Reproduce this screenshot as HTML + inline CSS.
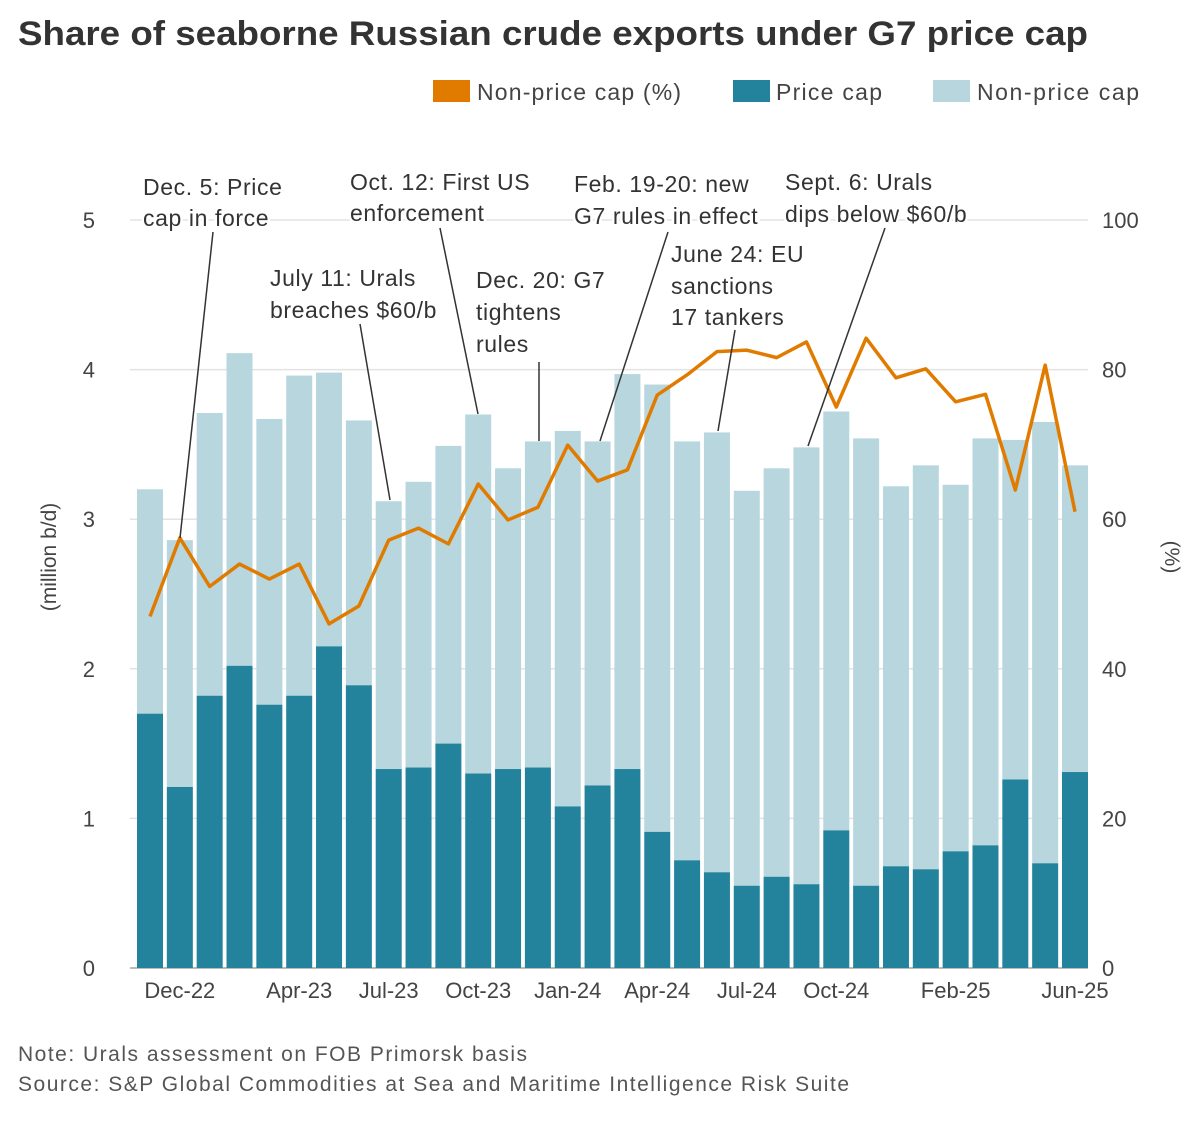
<!DOCTYPE html>
<html><head><meta charset="utf-8"><style>
body{margin:0;background:#fff;font-family:"Liberation Sans",sans-serif;}
svg text{font-family:"Liberation Sans",sans-serif;}
</style></head><body>
<svg id="chart" width="1200" height="1128" xmlns="http://www.w3.org/2000/svg">
<text x="18" y="45" font-size="34" font-weight="bold" fill="#333" textLength="1070" lengthAdjust="spacingAndGlyphs">Share of seaborne Russian crude exports under G7 price cap</text>
<g font-size="23" fill="#444">
<rect x="433" y="80" width="37" height="22" fill="#e07b00"/>
<text x="477" y="100" textLength="204">Non-price cap (%)</text>
<rect x="733" y="80" width="37" height="22" fill="#23839c"/>
<text x="776" y="100" textLength="106">Price cap</text>
<rect x="933" y="80" width="37" height="22" fill="#b7d6de"/>
<text x="977" y="100" textLength="162">Non-price cap</text>
</g>
<g id="grid"></g><g id="bars"></g><g id="line"></g><g id="axes"></g>
<g id="annot" font-size="23" fill="#333" letter-spacing="0.6"></g>
<text transform="translate(56,557) rotate(-90)" text-anchor="middle" font-size="21" fill="#444">(million b/d)</text>
<text transform="translate(1165,557) rotate(90)" text-anchor="middle" font-size="21" fill="#444">(%)</text>
<text x="18" y="1061" font-size="21" fill="#555" textLength="509">Note: Urals assessment on FOB Primorsk basis</text>
<text x="18" y="1091" font-size="21" fill="#555" textLength="831">Source: S&amp;P Global Commodities at Sea and Maritime Intelligence Risk Suite</text>
</svg>
<script>
const totals=[3.20,2.86,3.71,4.11,3.67,3.96,3.98,3.66,3.12,3.25,3.49,3.70,3.34,3.52,3.59,3.52,3.97,3.90,3.52,3.58,3.19,3.34,3.48,3.72,3.54,3.22,3.36,3.23,3.54,3.53,3.65,3.36];
const priceCap=[1.70,1.21,1.82,2.02,1.76,1.82,2.15,1.89,1.33,1.34,1.50,1.30,1.33,1.34,1.08,1.22,1.33,0.91,0.72,0.64,0.55,0.61,0.56,0.92,0.55,0.68,0.66,0.78,0.82,1.26,0.70,1.31];
const pct=[47,57.5,51,54,52,54,46,48.4,57.2,58.8,56.7,64.7,59.9,61.6,69.9,65.1,66.6,76.6,79.3,82.4,82.6,81.6,83.7,75,84.2,78.9,80.1,75.7,76.7,63.9,80.6,61];
const xLabels=[[1,"Dec-22"],[5,"Apr-23"],[8,"Jul-23"],[11,"Oct-23"],[14,"Jan-24"],[17,"Apr-24"],[20,"Jul-24"],[23,"Oct-24"],[27,"Feb-25"],[31,"Jun-25"]];
const leftTicks=[0,1,2,3,4,5];
const rightTicks=[0,20,40,60,80,100];
const NS="http://www.w3.org/2000/svg";
const y0=968,yTop=220;
const yL=v=>y0-v*(y0-yTop)/5;
const yR=v=>y0-v*(y0-yTop)/100;
const xC=i=>150+i*(1075-150)/(totals.length-1);
const bw=26;
function mk(tag,attrs,parent,txt){const e=document.createElementNS(NS,tag);for(const k in attrs)e.setAttribute(k,attrs[k]);if(txt!==undefined)e.textContent=txt;document.getElementById(parent).appendChild(e);return e;}
leftTicks.forEach((t,i)=>{
 const g=mk('line',{x1:130,x2:1088,y1:yL(t),y2:yL(t),stroke:t===0?'#bbb':'#e3e3e3','stroke-width':t===0?2:1.5},'grid');
 
 
 const a=mk('text',{x:95,y:yL(t)+8,'text-anchor':'end','font-size':22,fill:'#444'},'axes',String(t));
 
 
 const b=mk('text',{x:1102,y:yR(rightTicks[i])+8,'font-size':22,fill:'#444'},'axes',String(rightTicks[i]));
 
 
});
totals.forEach((t,i)=>{
 const l=mk('rect',{x:xC(i)-bw/2,y:yL(t),width:bw,height:yL(priceCap[i])-yL(t),fill:'#b7d6de'},'bars');
 
 
 const d=mk('rect',{x:xC(i)-bw/2,y:yL(priceCap[i]),width:bw,height:y0-yL(priceCap[i]),fill:'#23839c'},'bars');
 
 
});
const p=mk('polyline',{points:pct.map((v,i)=>xC(i)+','+yR(v)).join(' '),fill:'none',stroke:'#e07b00','stroke-width':3.5,'stroke-linejoin':'round'},'line');


xLabels.forEach(([i,s])=>{
 const t=mk('text',{x:xC(i),y:998,'text-anchor':'middle','font-size':22,fill:'#444'},'axes',s);
 
 
});
const ann=[
 [143,[195,226],["Dec. 5: Price","cap in force"],[213,232,180,538]],
 [350,[190,221],["Oct. 12: First US","enforcement"],[440,228,478,414]],
 [270,[286,318],["July 11: Urals","breaches $60/b"],[360,324,390,500]],
 [476,[288,320,352],["Dec. 20: G7","tightens","rules"],[539,362,539,441]],
 [574,[192,224],["Feb. 19-20: new","G7 rules in effect"],[668,232,600,441]],
 [671,[262,294,325],["June 24: EU","sanctions","17 tankers"],[735,330,718,431]],
 [785,[190,222],["Sept. 6: Urals","dips below $60/b"],[885,228,808,446]]
];
ann.forEach(([x,ys,lines,ln])=>{
 const l=mk('line',{x1:ln[0],y1:ln[1],x2:ln[2],y2:ln[3],stroke:'#333','stroke-width':1.5},'annot');
 
 
 lines.forEach((s,k)=>{
  const bg=mk('text',{x:x,y:ys[k],stroke:'#fff','stroke-width':5,fill:'#fff'},'annot',s);
  
  
  const t=mk('text',{x:x,y:ys[k]},'annot',s);
  
  
 });
});
</script>
</body></html>
